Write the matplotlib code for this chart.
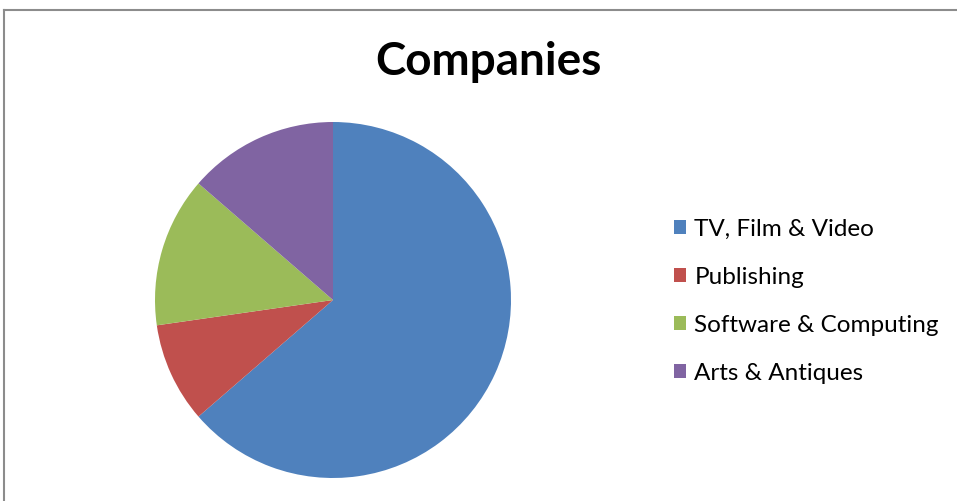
import matplotlib.pyplot as plt
from matplotlib.patches import Patch
from matplotlib.lines import Line2D

categories = ['TV, Film & Video', 'Publishing', 'Software & Computing', 'Arts & Antiques']
counts = [14, 2, 3, 3]
colors = ['#4F81BD', '#C0504D', '#9BBB59', '#8064A2']

plt.rcParams['font.family'] = ['Lato', 'DejaVu Sans']

fig = plt.figure(figsize=(9.57, 5.01), dpi=100)

# chart area frame (top and left edges only)
fig.add_artist(Line2D([4 / 957, 4 / 957], [0, 1 - 10 / 501], transform=fig.transFigure,
                      color='#8c8c8c', lw=1.5))
fig.add_artist(Line2D([4 / 957, 1], [1 - 10 / 501, 1 - 10 / 501], transform=fig.transFigure,
                      color='#8c8c8c', lw=1.5))

fig.text(488 / 957, 1 - 62 / 501, 'Companies', ha='center', va='center',
         fontsize=33, fontweight='bold')

ax = fig.add_axes([155 / 957, 23 / 501, 356 / 957, 356 / 501])
ax.pie(counts, colors=colors, startangle=90, counterclock=False, radius=1,
       wedgeprops=dict(linewidth=0))
ax.set_xlim(-1, 1)
ax.set_ylim(-1, 1)
ax.set_aspect('equal')
ax.axis('off')

handles = [Patch(facecolor=c, edgecolor='none') for c in colors]
fig.legend(handles, categories, loc='upper left', bbox_to_anchor=(664 / 957, 1 - 209 / 501),
           frameon=False, fontsize=17.5, handlelength=0.5, handleheight=0.5,
           handletextpad=0.35, labelspacing=1.11, borderaxespad=0)

fig.savefig('out.png', dpi=100)
